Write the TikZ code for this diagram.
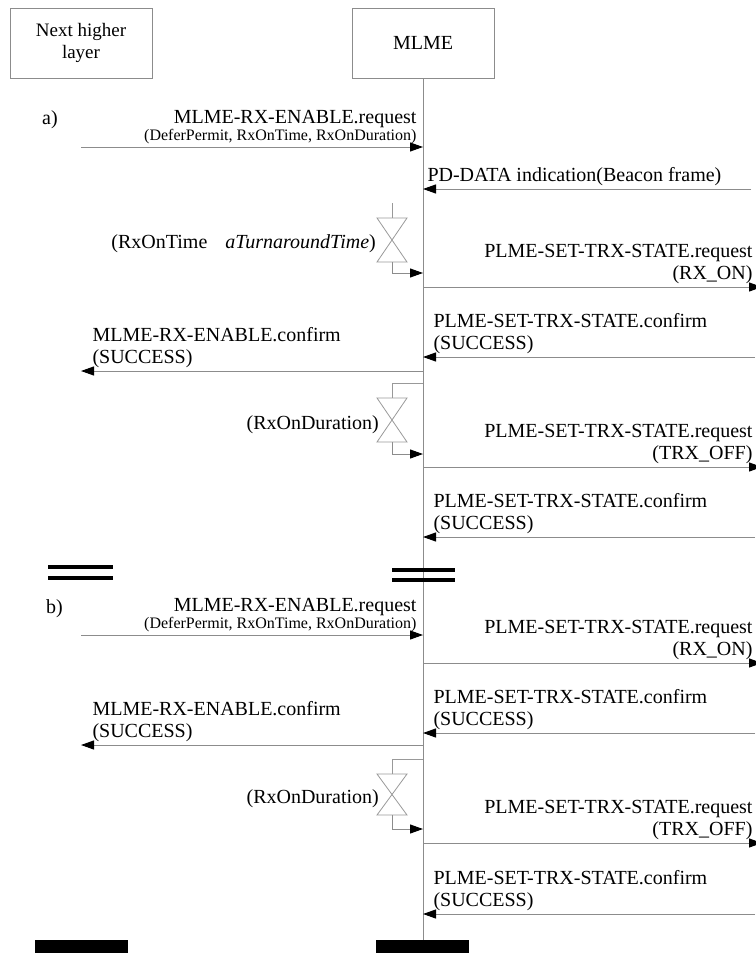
\documentclass[tikz,border=0pt]{standalone}
\usepackage{fontspec}
\setmainfont{Liberation Serif}
\usetikzlibrary{arrows.meta, calc}

\begin{document}
\begin{tikzpicture}[x=1pt, y=-1pt, >={Triangle[length=13pt, width=9pt, color=black]},
  every node/.style={font=\fontsize{20}{22}\selectfont, inner sep=0pt},
  entity/.style={draw=black!45, line width=1pt, align=center, minimum width=142pt, minimum height=70pt},
  life/.style={draw=black!45, line width=1pt},
  msg/.style={life, ->},
  hglass/.style={draw=black!40, line width=0.8pt},
  brk/.style={draw=black, line width=3.5pt}]
  \useasboundingbox (0,0) rectangle (755,953);

  \node[entity, font=\fontsize{19}{22}\selectfont] (nhl) at (81,43) {Next higher\\layer};
  \node[entity] (mlme) at (423,43) {MLME};
  \coordinate (mlmeEnd) at (423,953);
  \draw[life] (mlme.south) -- (mlmeEnd);

  \node[anchor=base west] (secA) at (42,124) {a)};
  \coordinate (reqA) at (81,147);
  \draw[msg] (reqA) -- (reqA -| mlme) node[pos=1, anchor=south east, align=right, xshift=-6pt, yshift=2.5pt] (reqAt) {MLME-RX-ENABLE.request\\[-5pt]{\fontsize{16}{18}\selectfont (DeferPermit, RxOnTime, RxOnDuration)}};
  \coordinate (pdA) at (751,189);
  \draw[msg] (pdA) -- (pdA -| mlme) node[pos=1, anchor=south west, xshift=4pt, yshift=2.5pt] (pdAt) {PD-DATA indication(Beacon frame)};
  \coordinate (tmAin) at (392,203);
  \coordinate (tmAout) at (392,273);
  \draw[hglass] (tmAin) -- ++(0,15);
  \draw[msg] (392,262) -- (tmAout) -- (tmAout -| mlme);
  \node[anchor=base east] (tmAt) at (376,248) {(RxOnTime\hspace{18pt}\textit{aTurnaroundTime})};
  \coordinate (plReqA) at (762,287);
  \draw[msg] (plReqA -| mlme) -- (plReqA) node[pos=1, anchor=south east, align=right, xshift=-9pt, yshift=2.5pt] (plReqAt) {PLME-SET-TRX-STATE.request\\(RX\_ON)};
  \coordinate (plCnfA) at (755,357);
  \draw[msg] (plCnfA) -- (plCnfA -| mlme) node[pos=1, anchor=south west, align=left, xshift=10pt, yshift=2.5pt] (plCnfAt) {PLME-SET-TRX-STATE.confirm\\(SUCCESS)};
  \coordinate (cnfA) at (81,371);
  \draw[msg] (cnfA -| mlme) -- (cnfA) node[pos=1, anchor=south west, align=left, xshift=11pt, yshift=2.5pt] (cnfAt) {MLME-RX-ENABLE.confirm\\(SUCCESS)};
  \coordinate (tmBin) at (392,383);
  \coordinate (tmBout) at (392,454);
  \draw[hglass] (tmBin -| mlme) -- (tmBin) -- ++(0,15);
  \draw[msg] (392,442) -- (tmBout) -- (tmBout -| mlme);
  \node[anchor=base east] (tmBt) at (379,429) {(RxOnDuration)};
  \coordinate (plReqB) at (762,467);
  \draw[msg] (plReqB -| mlme) -- (plReqB) node[pos=1, anchor=south east, align=right, xshift=-9pt, yshift=2.5pt] (plReqBt) {PLME-SET-TRX-STATE.request\\(TRX\_OFF)};
  \coordinate (plCnfB) at (755,537);
  \draw[msg] (plCnfB) -- (plCnfB -| mlme) node[pos=1, anchor=south west, align=left, xshift=10pt, yshift=2.5pt] (plCnfBt) {PLME-SET-TRX-STATE.confirm\\(SUCCESS)};

  \draw[brk] (48,567) -- (113,567) (48,578) -- (113,578);
  \draw[brk] (392,570) -- (455,570) (392,580) -- (455,580);

  \node[anchor=base west] (secB) at (46,613) {b)};
  \coordinate (reqC) at (81,635);
  \draw[msg] (reqC) -- (reqC -| mlme) node[pos=1, anchor=south east, align=right, xshift=-6pt, yshift=2.5pt] (reqCt) {MLME-RX-ENABLE.request\\[-5pt]{\fontsize{16}{18}\selectfont (DeferPermit, RxOnTime, RxOnDuration)}};
  \coordinate (plReqC) at (762,663);
  \draw[msg] (plReqC -| mlme) -- (plReqC) node[pos=1, anchor=south east, align=right, xshift=-9pt, yshift=2.5pt] (plReqCt) {PLME-SET-TRX-STATE.request\\(RX\_ON)};
  \coordinate (plCnfC) at (755,733);
  \draw[msg] (plCnfC) -- (plCnfC -| mlme) node[pos=1, anchor=south west, align=left, xshift=10pt, yshift=2.5pt] (plCnfCt) {PLME-SET-TRX-STATE.confirm\\(SUCCESS)};
  \coordinate (cnfC) at (81,745);
  \draw[msg] (cnfC -| mlme) -- (cnfC) node[pos=1, anchor=south west, align=left, xshift=11pt, yshift=2.5pt] (cnfCt) {MLME-RX-ENABLE.confirm\\(SUCCESS)};
  \coordinate (tmCin) at (392,759);
  \coordinate (tmCout) at (392,829);
  \draw[hglass] (tmCin -| mlme) -- (tmCin) -- ++(0,15);
  \draw[msg] (392,815) -- (tmCout) -- (tmCout -| mlme);
  \node[anchor=base east] (tmCt) at (379,803) {(RxOnDuration)};
  \coordinate (plReqD) at (762,843);
  \draw[msg] (plReqD -| mlme) -- (plReqD) node[pos=1, anchor=south east, align=right, xshift=-9pt, yshift=2.5pt] (plReqDt) {PLME-SET-TRX-STATE.request\\(TRX\_OFF)};
  \coordinate (plCnfD) at (755,914);
  \draw[msg] (plCnfD) -- (plCnfD -| mlme) node[pos=1, anchor=south west, align=left, xshift=10pt, yshift=2.5pt] (plCnfDt) {PLME-SET-TRX-STATE.confirm\\(SUCCESS)};

  \foreach \ya/\yb in {218/262, 398/442, 774/815}
    \draw[hglass] (377,\ya) -- (407,\ya) -- (377,\yb) -- (407,\yb) -- cycle;

  \fill (35,940) rectangle (128,953);
  \fill (376,940) rectangle (469,953);
\end{tikzpicture}
\end{document}
